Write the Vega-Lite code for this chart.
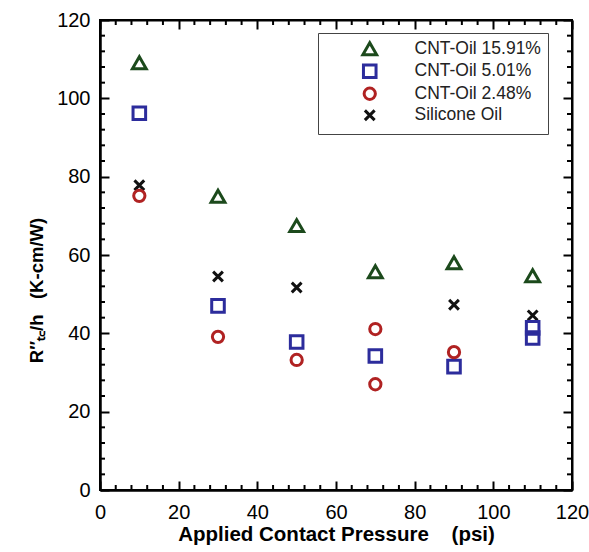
{
  "$schema": "https://vega.github.io/schema/vega-lite/v6.json",
  "width": 472,
  "height": 470,
  "autosize": {"type": "none"},
  "padding": {"left": 100, "top": 20, "right": 17, "bottom": 62},
  "background": "white",
  "config": {
    "view": {"stroke": "black", "strokeWidth": 2},
    "font": "Liberation Sans"
  },
  "datasets": {
    "pts": [
      {"p": 10, "r": 77.8, "s": "Silicone Oil"},
      {"p": 30, "r": 54.5, "s": "Silicone Oil"},
      {"p": 50, "r": 51.7, "s": "Silicone Oil"},
      {"p": 90, "r": 47.3, "s": "Silicone Oil"},
      {"p": 110, "r": 44.6, "s": "Silicone Oil"},
      {"p": 10, "r": 109.1, "s": "CNT-Oil 15.91%"},
      {"p": 30, "r": 75.0, "s": "CNT-Oil 15.91%"},
      {"p": 50, "r": 67.5, "s": "CNT-Oil 15.91%"},
      {"p": 70, "r": 55.7, "s": "CNT-Oil 15.91%"},
      {"p": 90, "r": 58.0, "s": "CNT-Oil 15.91%"},
      {"p": 110, "r": 54.7, "s": "CNT-Oil 15.91%"},
      {"p": 10, "r": 96.2, "s": "CNT-Oil 5.01%"},
      {"p": 30, "r": 47.0, "s": "CNT-Oil 5.01%"},
      {"p": 50, "r": 37.8, "s": "CNT-Oil 5.01%"},
      {"p": 70, "r": 34.2, "s": "CNT-Oil 5.01%"},
      {"p": 90, "r": 31.5, "s": "CNT-Oil 5.01%"},
      {"p": 110, "r": 41.4, "s": "CNT-Oil 5.01%"},
      {"p": 110, "r": 38.8, "s": "CNT-Oil 5.01%"},
      {"p": 10, "r": 75.1, "s": "CNT-Oil 2.48%"},
      {"p": 30, "r": 39.1, "s": "CNT-Oil 2.48%"},
      {"p": 50, "r": 33.2, "s": "CNT-Oil 2.48%"},
      {"p": 70, "r": 41.1, "s": "CNT-Oil 2.48%"},
      {"p": 70, "r": 27.0, "s": "CNT-Oil 2.48%"},
      {"p": 90, "r": 35.2, "s": "CNT-Oil 2.48%"}
    ],
    "minor": [
      {"v": 4}, {"v": 8}, {"v": 12}, {"v": 16}, {"v": 24}, {"v": 28}, {"v": 32}, {"v": 36},
      {"v": 44}, {"v": 48}, {"v": 52}, {"v": 56}, {"v": 64}, {"v": 68}, {"v": 72}, {"v": 76},
      {"v": 84}, {"v": 88}, {"v": 92}, {"v": 96}, {"v": 104}, {"v": 108}, {"v": 112}, {"v": 116}
    ]
  },
  "resolve": {"axis": {"x": "independent", "y": "independent"}},
  "layer": [
    {
      "data": {"name": "pts"},
      "mark": {"type": "point", "filled": false, "opacity": 1},
      "encoding": {
        "x": {"field": "p", "type": "quantitative", "scale": {"domain": [0, 120], "nice": false},
          "axis": {"orient": "bottom", "grid": false, "tickCount": 6, "ticks": false, "domainColor": "black", "domainWidth": 2, "labelColor": "black", "titleColor": "black", "labelFont": "Liberation Sans", "titleFont": "Liberation Sans", "labelFontSize": 20, "labelPadding": 12, "labelFlush": false, "title": "Applied Contact Pressure\u00a0\u00a0\u00a0\u00a0(psi)", "titleFontSize": 20.5, "titleFontWeight": "bold", "titlePadding": 2}},
        "y": {"field": "r", "type": "quantitative", "scale": {"domain": [0, 120], "nice": false},
          "axis": {"orient": "left", "grid": false, "tickCount": 6, "ticks": false, "domainColor": "black", "domainWidth": 2, "labelColor": "black", "titleColor": "black", "labelFont": "Liberation Sans", "titleFont": "Liberation Sans", "labelFontSize": 20, "labelPadding": 10, "labelFlush": false, "title": "R″ₜ꜀/h\u00a0\u00a0\u00a0(K-cm/W)", "titleFontSize": 18.5, "titleFontWeight": "bold", "titlePadding": 10, "titleY": 270}},
        "color": {"field": "s", "type": "nominal",
          "scale": {"domain": ["CNT-Oil 15.91%", "CNT-Oil 5.01%", "CNT-Oil 2.48%", "Silicone Oil"], "range": ["#1c4a1c", "#2c2c9c", "#b02222", "#111111"]},
          "legend": {"orient": "none", "legendX": 218, "legendY": 13, "title": null, "strokeColor": "#444444", "padding": 7, "labelFontSize": 17.5, "labelColor": "#222222", "labelOffset": 36, "symbolOffset": 36, "rowPadding": -2.5, "symbolStrokeWidth": 3, "symbolSize": 120, "symbolOpacity": 1, "labelLimit": 300, "offset": 0}},
        "shape": {"field": "s", "type": "nominal",
          "scale": {"domain": ["CNT-Oil 15.91%", "CNT-Oil 5.01%", "CNT-Oil 2.48%", "Silicone Oil"], "range": ["triangle-up", "square", "circle", "M-1,-1L1,1M-1,1L1,-1"]}},
        "size": {"field": "s", "type": "nominal", "legend": null,
          "scale": {"domain": ["CNT-Oil 15.91%", "CNT-Oil 5.01%", "CNT-Oil 2.48%", "Silicone Oil"], "range": [190, 95, 200, 70]}},
        "strokeWidth": {"field": "s", "type": "nominal", "legend": null,
          "scale": {"domain": ["CNT-Oil 15.91%", "CNT-Oil 5.01%", "CNT-Oil 2.48%", "Silicone Oil"], "range": [3, 3, 3, 1.6]}}
      }
    },
    {
      "data": {"name": "pts"},
      "mark": {"type": "point", "opacity": 0},
      "encoding": {
        "x": {"field": "p", "type": "quantitative", "axis": {"orient": "top", "grid": false, "tickCount": 6, "tickSize": -9, "tickWidth": 2, "tickColor": "black", "labels": false, "title": null, "domainColor": "black", "domainWidth": 2}},
        "y": {"field": "r", "type": "quantitative", "axis": {"orient": "right", "grid": false, "tickCount": 6, "tickSize": -9, "tickWidth": 2, "tickColor": "black", "labels": false, "title": null, "domainColor": "black", "domainWidth": 2}}
      }
    },
    {
      "data": {"name": "pts"},
      "mark": {"type": "point", "opacity": 0},
      "encoding": {
        "x": {"field": "p", "type": "quantitative", "axis": {"orient": "bottom", "grid": false, "tickCount": 6, "tickSize": -9, "tickWidth": 2, "tickColor": "black", "labels": false, "title": null, "domainColor": "black", "domainWidth": 2}},
        "y": {"field": "r", "type": "quantitative", "axis": {"orient": "left", "grid": false, "tickCount": 6, "tickSize": -9, "tickWidth": 2, "tickColor": "black", "labels": false, "title": null, "domainColor": "black", "domainWidth": 2}}
      }
    },
    {
      "data": {"name": "minor"},
      "mark": {"type": "rule", "stroke": "black", "strokeWidth": 2, "y2Offset": -5},
      "encoding": {
        "x": {"field": "v", "type": "quantitative", "axis": null},
        "y": {"datum": 0, "type": "quantitative", "axis": null},
        "y2": {"datum": 0}
      }
    },
    {
      "data": {"name": "minor"},
      "mark": {"type": "rule", "stroke": "black", "strokeWidth": 2, "y2Offset": 5},
      "encoding": {
        "x": {"field": "v", "type": "quantitative", "axis": null},
        "y": {"datum": 120, "type": "quantitative", "axis": null},
        "y2": {"datum": 120}
      }
    },
    {
      "data": {"name": "minor"},
      "mark": {"type": "rule", "stroke": "black", "strokeWidth": 2, "x2Offset": 5},
      "encoding": {
        "y": {"field": "v", "type": "quantitative", "axis": null},
        "x": {"datum": 0, "type": "quantitative", "axis": null},
        "x2": {"datum": 0}
      }
    },
    {
      "data": {"name": "minor"},
      "mark": {"type": "rule", "stroke": "black", "strokeWidth": 2, "x2Offset": -5},
      "encoding": {
        "y": {"field": "v", "type": "quantitative", "axis": null},
        "x": {"datum": 120, "type": "quantitative", "axis": null},
        "x2": {"datum": 120}
      }
    }
  ]
}
